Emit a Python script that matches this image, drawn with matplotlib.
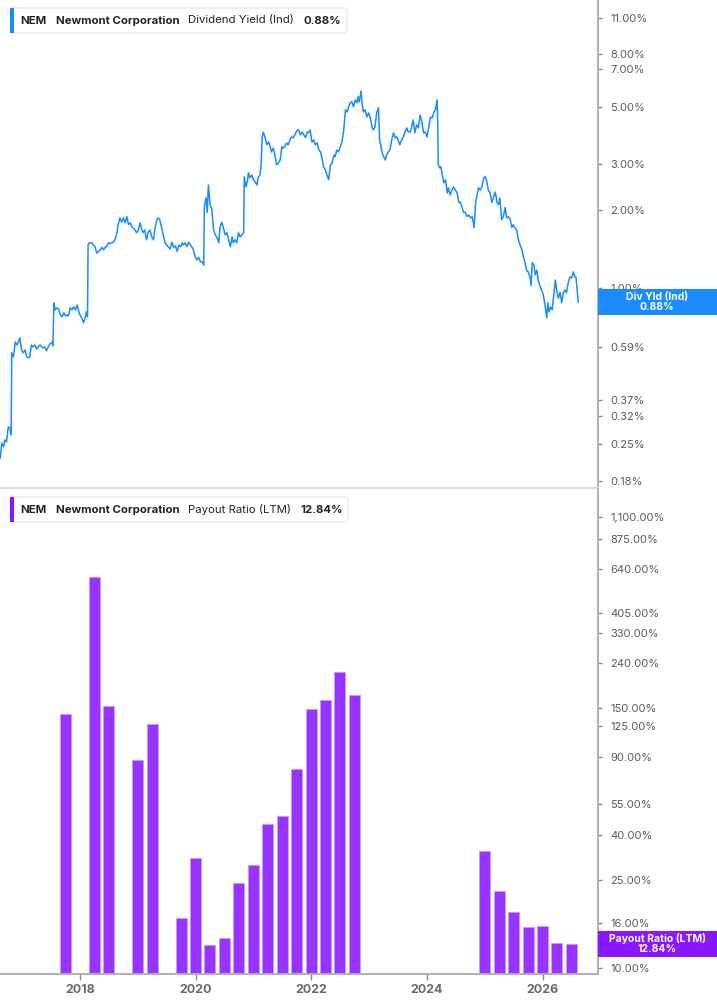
import matplotlib
matplotlib.use("Agg")
import matplotlib.pyplot as plt
from matplotlib.patches import Rectangle, FancyBboxPatch
import numpy as np
import pandas as pd

plt.rcParams['font.family'] = ['Inter', 'DejaVu Sans']

# ---------------- data ----------------
yield_years = [
    2016.62, 2016.65, 2016.68, 2016.70, 2016.73, 2016.76, 2016.79, 2016.81, 2016.82, 2016.85,
    2016.88, 2016.91, 2016.93, 2016.96, 2016.99, 2017.02, 2017.05, 2017.08, 2017.11, 2017.13,
    2017.16, 2017.19, 2017.22, 2017.25, 2017.28, 2017.31, 2017.34, 2017.36, 2017.39, 2017.42,
    2017.45, 2017.48, 2017.52, 2017.53, 2017.55, 2017.57, 2017.60, 2017.63, 2017.66, 2017.69,
    2017.72, 2017.75, 2017.78, 2017.80, 2017.83, 2017.86, 2017.89, 2017.92, 2017.95, 2017.98,
    2018.00, 2018.03, 2018.06, 2018.09, 2018.11, 2018.13, 2018.14, 2018.16, 2018.21, 2018.23,
    2018.26, 2018.29, 2018.32, 2018.35, 2018.38, 2018.41, 2018.44, 2018.46, 2018.49, 2018.52,
    2018.55, 2018.58, 2018.61, 2018.64, 2018.66, 2018.69, 2018.72, 2018.75, 2018.78, 2018.81,
    2018.84, 2018.87, 2018.90, 2018.92, 2018.95, 2018.98, 2019.01, 2019.04, 2019.07, 2019.09,
    2019.12, 2019.15, 2019.18, 2019.21, 2019.24, 2019.27, 2019.30, 2019.33, 2019.35, 2019.38,
    2019.41, 2019.44, 2019.47, 2019.50, 2019.535, 2019.56, 2019.59, 2019.62, 2019.65, 2019.68,
    2019.71, 2019.74, 2019.77, 2019.79, 2019.82, 2019.85, 2019.88, 2019.91, 2019.94, 2019.97,
    2019.99, 2020.02, 2020.05, 2020.08, 2020.11, 2020.14, 2020.15, 2020.18, 2020.20, 2020.22,
    2020.25, 2020.28, 2020.31, 2020.34, 2020.37, 2020.40, 2020.42, 2020.45, 2020.48, 2020.51,
    2020.54, 2020.57, 2020.60, 2020.63, 2020.65, 2020.68, 2020.71, 2020.74, 2020.77, 2020.80,
    2020.83, 2020.84, 2020.87, 2020.90, 2020.91, 2020.94, 2020.97, 2021.00, 2021.03, 2021.06,
    2021.08, 2021.11, 2021.13, 2021.15, 2021.17, 2021.20, 2021.23, 2021.26, 2021.29, 2021.31,
    2021.34, 2021.37, 2021.40, 2021.43, 2021.46, 2021.49, 2021.51, 2021.54, 2021.57, 2021.60,
    2021.63, 2021.66, 2021.69, 2021.73, 2021.755, 2021.78, 2021.81, 2021.84, 2021.87, 2021.90,
    2021.93, 2021.95, 2021.98, 2022.01, 2022.04, 2022.07, 2022.10, 2022.13, 2022.16, 2022.19,
    2022.21, 2022.24, 2022.27, 2022.30, 2022.33, 2022.36, 2022.39, 2022.41, 2022.44, 2022.47,
    2022.50, 2022.53, 2022.56, 2022.59, 2022.62, 2022.64, 2022.67, 2022.70, 2022.73, 2022.76,
    2022.79, 2022.81, 2022.83, 2022.86, 2022.88, 2022.90, 2022.93, 2022.96, 2022.99, 2023.02,
    2023.05, 2023.07, 2023.10, 2023.13, 2023.16, 2023.18, 2023.20, 2023.22, 2023.25, 2023.28,
    2023.30, 2023.33, 2023.36, 2023.39, 2023.42, 2023.45, 2023.48, 2023.50, 2023.53, 2023.56,
    2023.59, 2023.62, 2023.65, 2023.675, 2023.71, 2023.73, 2023.76, 2023.79, 2023.82, 2023.85,
    2023.88, 2023.915, 2023.94, 2023.97, 2024.00, 2024.03, 2024.06, 2024.09, 2024.12, 2024.145,
    2024.175, 2024.185, 2024.195, 2024.22, 2024.24, 2024.27, 2024.29, 2024.32, 2024.35, 2024.37,
    2024.40, 2024.43, 2024.46, 2024.49, 2024.52, 2024.55, 2024.575, 2024.605, 2024.63, 2024.66,
    2024.69, 2024.72, 2024.75, 2024.78, 2024.80, 2024.815, 2024.84, 2024.86, 2024.89, 2024.92,
    2024.95, 2024.98, 2025.01, 2025.035, 2025.06, 2025.09, 2025.12, 2025.15, 2025.18, 2025.21,
    2025.235, 2025.26, 2025.29, 2025.32, 2025.35, 2025.38, 2025.41, 2025.44, 2025.465, 2025.49,
    2025.52, 2025.55, 2025.58, 2025.61, 2025.64, 2025.665, 2025.69, 2025.72, 2025.75, 2025.78,
    2025.80, 2025.82, 2025.85, 2025.87, 2025.90, 2025.92, 2025.95, 2025.98, 2026.01, 2026.04,
    2026.07, 2026.09, 2026.11, 2026.14, 2026.165, 2026.195, 2026.22, 2026.24, 2026.27, 2026.30,
    2026.33, 2026.355, 2026.385, 2026.41, 2026.44, 2026.47, 2026.50, 2026.53, 2026.555, 2026.575,
    2026.60, 2026.615,
]
dividend_yield = [
    0.220, 0.251, 0.243, 0.258, 0.254, 0.290, 0.287, 0.270, 0.560, 0.541,
    0.617, 0.601, 0.612, 0.640, 0.575, 0.560, 0.575, 0.541, 0.536, 0.541,
    0.601, 0.590, 0.601, 0.580, 0.590, 0.601, 0.590, 0.585, 0.590, 0.570,
    0.590, 0.606, 0.617, 0.596, 0.874, 0.821, 0.836, 0.828, 0.785, 0.771,
    0.800, 0.778, 0.785, 0.778, 0.836, 0.821, 0.843, 0.821, 0.858, 0.807,
    0.785, 0.764, 0.732, 0.764, 0.807, 0.771, 1.46, 1.49, 1.49, 1.46,
    1.44, 1.36, 1.38, 1.40, 1.43, 1.40, 1.44, 1.44, 1.49, 1.48,
    1.49, 1.50, 1.54, 1.63, 1.75, 1.86, 1.79, 1.86, 1.78, 1.88,
    1.75, 1.78, 1.71, 1.70, 1.67, 1.63, 1.67, 1.78, 1.67, 1.63,
    1.67, 1.53, 1.64, 1.67, 1.57, 1.53, 1.71, 1.83, 1.86, 1.83,
    1.71, 1.60, 1.49, 1.46, 1.43, 1.41, 1.50, 1.43, 1.45, 1.38,
    1.46, 1.44, 1.49, 1.46, 1.49, 1.44, 1.50, 1.46, 1.43, 1.38,
    1.32, 1.28, 1.31, 1.26, 1.26, 1.22, 2.05, 2.22, 1.95, 2.49,
    2.09, 2.00, 1.67, 1.60, 1.56, 1.49, 1.71, 1.79, 1.70, 1.60,
    1.63, 1.53, 1.44, 1.57, 1.49, 1.53, 1.49, 1.63, 1.57, 1.60,
    1.63, 2.68, 2.45, 2.61, 2.78, 2.66, 2.72, 2.61, 2.56, 2.49,
    2.66, 2.72, 2.93, 3.82, 3.99, 3.79, 3.56, 3.65, 3.50, 3.34,
    3.46, 3.25, 2.98, 3.03, 3.11, 3.50, 3.46, 3.50, 3.62, 3.56,
    3.72, 3.82, 3.79, 3.96, 4.06, 4.06, 3.89, 3.99, 3.89, 3.79,
    3.99, 3.96, 4.06, 3.65, 3.72, 3.56, 3.62, 3.40, 3.34, 3.11,
    2.93, 2.85, 2.72, 2.61, 2.98, 3.03, 3.25, 3.20, 3.40, 3.34,
    3.50, 3.65, 4.06, 4.86, 4.77, 4.95, 5.17, 5.22, 4.99, 5.31,
    5.17, 5.46, 5.22, 5.75, 5.08, 4.77, 4.86, 4.56, 4.73, 4.52,
    4.17, 4.06, 4.17, 4.73, 4.95, 3.72, 3.56, 3.34, 3.20, 3.11,
    3.25, 3.34, 3.40, 3.72, 3.96, 3.79, 3.82, 3.72, 3.56, 3.72,
    3.82, 3.99, 4.14, 3.99, 3.99, 4.14, 4.44, 3.96, 4.25, 4.14,
    4.64, 4.33, 3.96, 3.99, 3.82, 4.17, 4.56, 4.52, 4.77, 4.86,
    5.31, 4.33, 2.98, 2.90, 2.93, 2.68, 2.54, 2.61, 2.32, 2.43,
    2.28, 2.38, 2.45, 2.38, 2.32, 2.13, 2.14, 2.05, 1.95, 1.96,
    1.88, 1.91, 1.86, 1.88, 1.79, 1.71, 2.13, 2.24, 2.43, 2.38,
    2.45, 2.66, 2.68, 2.56, 2.38, 2.32, 2.13, 2.24, 2.34, 2.13,
    2.09, 2.22, 1.83, 1.88, 2.04, 1.86, 1.88, 1.83, 1.71, 1.75,
    1.70, 1.67, 1.53, 1.46, 1.40, 1.32, 1.26, 1.17, 1.15, 1.10,
    1.02, 1.25, 1.22, 1.12, 1.17, 1.07, 1.02, 0.98, 0.94, 0.858,
    0.764, 0.874, 0.807, 0.843, 0.821, 0.955, 1.07, 0.98, 0.91, 0.96,
    0.874, 0.955, 0.98, 0.955, 1.04, 1.10, 1.09, 1.15, 1.10, 1.10,
    0.955, 0.88,
]

payout_dates = [
    "2017-09-30", "2018-03-31", "2018-06-30", "2018-12-31", "2019-03-31",
    "2019-09-30", "2019-12-31", "2020-03-31", "2020-06-30", "2020-09-30",
    "2020-12-31", "2021-03-31", "2021-06-30", "2021-09-30", "2021-12-31",
    "2022-03-31", "2022-06-30", "2022-09-30", "2024-12-31", "2025-03-31",
    "2025-06-30", "2025-09-30", "2025-12-31", "2026-03-31", "2026-06-30",
]
payout_ratio = [
    141, 587, 154, 87.4, 126.7,
    16.8, 31.4, 12.7, 13.6, 24.2,
    29.3, 44.8, 48.6, 79.9, 149,
    164, 218, 172.5, 33.8, 22.3,
    17.85, 15.36, 15.45, 12.98, 12.84,
]

yield_ticks = [11, 8, 7, 5, 3, 2, 1, 0.81, 0.59, 0.37, 0.32, 0.25, 0.18]
payout_ticks = [1100, 875, 640, 405, 330, 240, 150, 125, 90, 55, 40, 25, 16, 10]
year_ticks = [2018, 2020, 2022, 2024, 2026]

last_yield = 0.88
last_payout = 12.84

# ---------------- styles ----------------
BLUE = '#1a8cff'
PURPLE_BAR = '#9933ff'
PURPLE_LBL = '#8a17ff'
TICK_COL = '#5a5a5a'
SPINE_COL = '#b0b0b0'

W, H = 717, 1005
fig = plt.figure(figsize=(W / 100, H / 100), dpi=100)


def fx(px):
    return px / W


def fy(py):
    return 1 - py / H


XMIN, XMAX = 2016.617, 2026.951
ax_right = 597.7

ax1 = fig.add_axes([0, fy(488), fx(ax_right), fy(0) - fy(488)])
ax2 = fig.add_axes([0, fy(974), fx(ax_right), fy(489) - fy(974)])

# top: dividend yield line
ax1.plot(yield_years, dividend_yield, color=BLUE, lw=1.1, solid_joinstyle='round')
ax1.set_yscale('log')
ax1.set_ylim(0.1685, 12.9)
ax1.set_xlim(XMIN, XMAX)

# bottom: payout bars
pd_dates = pd.to_datetime(payout_dates)
bar_x = [d.year + (d.dayofyear - 0.5) / (366 if d.is_leap_year else 365) for d in pd_dates]
ax2.bar(bar_x, np.array(payout_ratio) - 1, bottom=1, width=0.19, color=PURPLE_BAR,
        edgecolor='#c39bff', linewidth=0.6)
ax2.set_yscale('log')
ax2.set_ylim(9.39, 1473)
ax2.set_xlim(XMIN, XMAX)

for ax, ticks in ((ax1, yield_ticks), (ax2, payout_ticks)):
    ax.yaxis.tick_right()
    ax.yaxis.set_minor_locator(matplotlib.ticker.NullLocator())
    ax.set_yticks(ticks)
    ax.set_yticklabels([f"{t:,.2f}%" for t in ticks])
    ax.tick_params(axis='y', which='major', direction='out', length=3, width=1,
                   color='#888888', labelcolor=TICK_COL, labelsize=8, pad=6)
    for s in ('top', 'left'):
        ax.spines[s].set_visible(False)
    ax.spines['right'].set_color(SPINE_COL)
    ax.spines['right'].set_linewidth(1.4)
    ax.set_facecolor('none')

ax1.spines['bottom'].set_color('#dcdcdc')
ax1.spines['bottom'].set_linewidth(1.6)
ax1.set_xticks([])

ax2.spines['bottom'].set_color(SPINE_COL)
ax2.spines['bottom'].set_linewidth(1.4)
ax2.set_xticks(year_ticks)
ax2.set_xticklabels([str(y) for y in year_ticks])
ax2.xaxis.set_minor_locator(matplotlib.ticker.NullLocator())
ax2.tick_params(axis='x', direction='out', length=4, width=1, color='#888888',
                labelcolor='#6a6a6a', labelsize=9, pad=3)
for lbl in ax2.get_xticklabels():
    lbl.set_fontweight('bold')

LEG_FS = 8.2


# legend boxes
def legend_box(y_top, x_right, color, parts):
    box = FancyBboxPatch((fx(10), fy(y_top + 25)), fx(x_right) - fx(10), fy(y_top) - fy(y_top + 25),
                         boxstyle='round,pad=0,rounding_size=0.004', transform=fig.transFigure,
                         facecolor='white', edgecolor='#e4e4e4', linewidth=0.8, zorder=5)
    fig.add_artist(box)
    bar = Rectangle((fx(10), fy(y_top + 25)), fx(13.5) - fx(10), fy(y_top) - fy(y_top + 25),
                    transform=fig.transFigure, facecolor=color, edgecolor='none', zorder=6)
    fig.add_artist(bar)
    prev = fig.text(fx(20.5), fy(y_top + 12.5), parts[0][0], fontsize=LEG_FS,
                    fontweight=parts[0][1], color='#222222', va='center', ha='left', zorder=7)
    for txt, wt in parts[1:]:
        prev = fig.add_artist(
            matplotlib.text.Annotation(txt, xy=(1, 0.5), xycoords=prev, xytext=(6.5, 0),
                                       textcoords='offset points', va='center', ha='left',
                                       fontsize=LEG_FS, fontweight=wt, color='#222222', zorder=7))
    return prev


legend_box(8, 347, BLUE, [("NEM", 'bold'), ("Newmont Corporation", 'bold'),
                          ("Dividend Yield (Ind)", 'normal'), (f"{last_yield:.2f}%", 'bold')])
legend_box(497, 348, PURPLE_LBL, [("NEM", 'bold'), ("Newmont Corporation", 'bold'),
                                  ("Payout Ratio (LTM)", 'normal'), (f"{last_payout:.2f}%", 'bold')])


# right-side value labels
def value_label(ax, value, color, text):
    fig.canvas.draw()
    ydisp = ax.transData.transform((XMIN, value))[1]
    yfig = fig.transFigure.inverted().transform((0, ydisp))[1]
    h = 26 / H
    rect = Rectangle((fx(ax_right), yfig - h / 2), 1 - fx(ax_right), h, transform=fig.transFigure,
                     facecolor=color, edgecolor='none', zorder=8)
    fig.add_artist(rect)
    fig.text((fx(ax_right) + 1) / 2, yfig, text, color='white', fontsize=7.5, fontweight='bold',
             ha='center', va='center', linespacing=1.0, zorder=9)


value_label(ax1, last_yield, BLUE, f"Div Yld (Ind)\n{last_yield:.2f}%")
value_label(ax2, last_payout, PURPLE_LBL, f"Payout Ratio (LTM)\n{last_payout:.2f}%")

fig.savefig('out.png', dpi=100, facecolor='white')
